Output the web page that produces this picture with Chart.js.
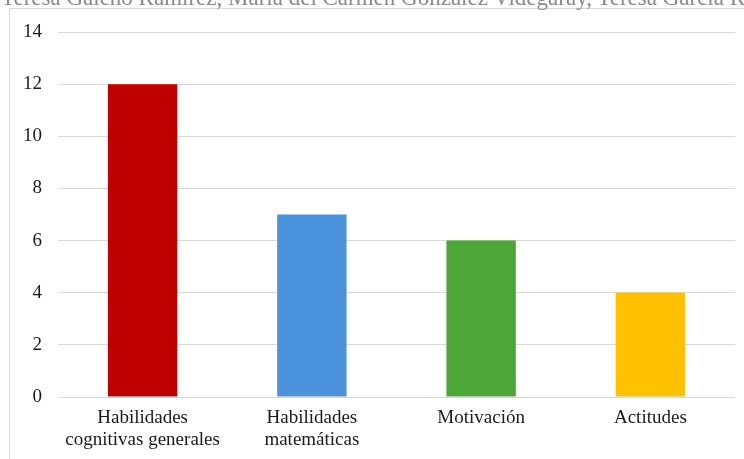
<!DOCTYPE html>
<html>
<head>
<meta charset="utf-8">
<script src="https://cdn.jsdelivr.net/npm/chart.js@4"></script>
<style>
  html, body { margin: 0; padding: 0; background: #fff; overflow: hidden; }
  .wrap { position: relative; width: 744px; height: 459px; overflow: hidden; }
  .header {
    position: absolute; left: 1px; top: -14px; white-space: nowrap;
    font-family: "Liberation Serif", serif;
    font-size: 23px; color: #8a8a8a; line-height: 23px;
  }
  .frame {
    position: absolute; left: 9px; top: 8px; width: 760px; height: 470px;
    border: 1px solid #d9d9d9; box-sizing: border-box;
  }
  canvas { display: block; }
</style>
</head>
<body>
<div class="wrap">
  <canvas id="chart" width="744" height="459"></canvas>
  <div class="frame"></div>
  <div class="header">Teresa Galeno Ramírez, María del Carmen González Videgaray, Teresa García Ramírez</div>
</div>
<script>
// Factores y número de estudios
const categories = [
  ["Habilidades", "cognitivas generales"],
  ["Habilidades", "matemáticas"],
  "Motivación",
  "Actitudes"
];
const counts = [12, 7, 6, 4];
const barColors = ["#C00000", "#4A93DC", "#4CA638", "#FFC000"];
const yTicks = [0, 2, 4, 6, 8, 10, 12, 14];

new Chart(document.getElementById("chart"), {
  type: "bar",
  data: {
    labels: categories,
    datasets: [{
      data: counts,
      backgroundColor: barColors,
      borderWidth: 0,
      categoryPercentage: 1,
      barPercentage: 0.41
    }]
  },
  options: {
    responsive: false,
    animation: false,
    layout: { padding: { left: 0, top: 32, right: 9, bottom: 0 } },
    plugins: { legend: { display: false }, tooltip: { enabled: false } },
    scales: {
      x: {
        grid: { display: false, drawTicks: false },
        border: { display: false },
        ticks: {
          color: "#1a1a1a",
          font: { family: "Liberation Serif", size: 19, lineHeight: 1.16 },
          padding: 10,
          maxRotation: 0,
          autoSkip: false
        },
        afterFit(scale) { scale.height = 62; }
      },
      y: {
        min: 0,
        max: 14,
        afterBuildTicks(scale) { scale.ticks = yTicks.map(v => ({ value: v })); },
        grid: { color: "#d9d9d9", lineWidth: 1, drawTicks: false },
        border: { display: false },
        ticks: {
          color: "#1a1a1a",
          font: { family: "Liberation Serif", size: 19 },
          padding: 16
        },
        afterFit(scale) { scale.width = 58; }
      }
    }
  }
});
</script>
</body>
</html>
